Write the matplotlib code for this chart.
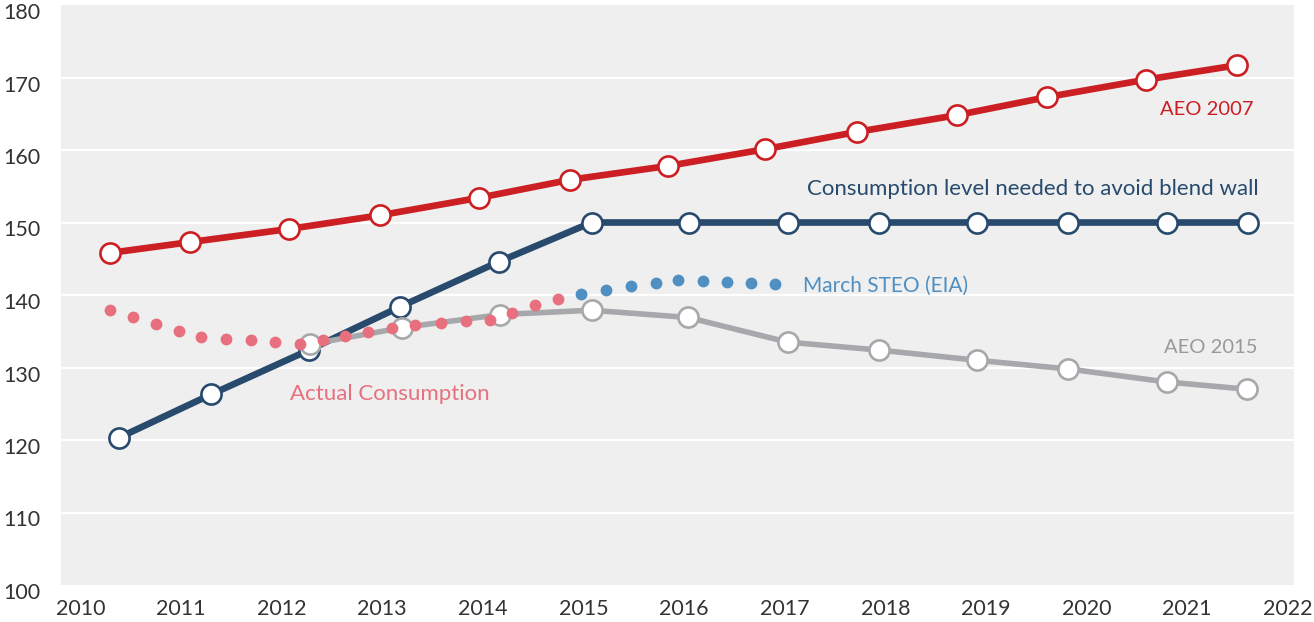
import matplotlib
matplotlib.use("Agg")
import matplotlib.pyplot as plt
import matplotlib.transforms as mtransforms

plt.rcParams['font.family'] = ['Lato', 'DejaVu Sans']

# ---- data (years as fractional positions) ----
aeo2007_x = [2010.29, 2011.09, 2012.07, 2012.98, 2013.96, 2014.87, 2015.84,
             2016.80, 2017.72, 2018.71, 2019.61, 2020.59, 2021.50]
aeo2007_y = [145.8, 147.3, 149.1, 151.0, 153.4, 155.9, 157.8,
             160.1, 162.5, 164.8, 167.3, 169.7, 171.7]

blend_x = [2010.38, 2011.30, 2012.27, 2013.18, 2014.16, 2015.08, 2016.05,
           2017.03, 2017.94, 2018.91, 2019.82, 2020.80, 2021.61]
blend_y = [120.3, 126.3, 132.4, 138.4, 144.6, 150.0, 150.0,
           150.0, 150.0, 150.0, 150.0, 150.0, 150.0]

aeo2015_x = [2012.28, 2013.20, 2014.17, 2015.08, 2016.04, 2017.03, 2017.94,
             2018.91, 2019.82, 2020.80, 2021.60]
aeo2015_y = [133.2, 135.5, 137.3, 137.9, 136.9, 133.5, 132.4,
             131.0, 129.8, 128.0, 127.0]

actual_x = [2010.29, 2010.52, 2010.75, 2010.98, 2011.20, 2011.45, 2011.69,
            2011.93, 2012.18, 2012.41, 2012.63, 2012.86, 2013.10, 2013.33,
            2013.58, 2013.83, 2014.07, 2014.29, 2014.52, 2014.75]
actual_y = [137.9, 136.9, 136.0, 135.1, 134.2, 133.9, 133.8,
            133.5, 133.2, 133.8, 134.3, 134.9, 135.4, 135.8,
            136.1, 136.4, 136.6, 137.5, 138.6, 139.4]

steo_x = [2014.98, 2015.22, 2015.47, 2015.72, 2015.94, 2016.19, 2016.43,
          2016.67, 2016.90]
steo_y = [140.2, 140.75, 141.3, 141.7, 142.1, 142.0, 141.85, 141.6, 141.45]

x_ticks = list(range(2010, 2023))
y_ticks = list(range(100, 181, 10))

labels = {
    "AEO 2007": "AEO 2007",
    "blend": "Consumption level needed to avoid blend wall",
    "steo": "March STEO (EIA)",
    "aeo2015": "AEO 2015",
    "actual": "Actual Consumption",
}

# ---- colours ----
RED = "#cc1f24"
NAVY = "#274a6d"
GRAY = "#a7a8ab"
PINK = "#e8707e"
STEEL = "#4f8fc2"
BG = "#efefef"

fig = plt.figure(figsize=(13.14, 6.22), dpi=100)
W, H = 1314, 622
ax = fig.add_axes([61 / W, (H - 585) / H, (1294 - 61) / W, (585 - 5) / H])
ax.set_facecolor(BG)

ax.set_xlim(2009.806, 2022.063)
ax.set_ylim(100, 180)

for yv in y_ticks[1:-1]:
    ax.axhline(yv, color="white", lw=1.6, zorder=1)

ms = 14.5
mew = 1.9
ax.plot(blend_x, blend_y, color=NAVY, lw=4.8, marker="o", ms=ms,
        mfc="white", mec=NAVY, mew=mew, zorder=3, solid_capstyle="round")
ax.plot(aeo2015_x, aeo2015_y, color=GRAY, lw=4.0, marker="o", ms=ms,
        mfc="white", mec=GRAY, mew=mew, zorder=4, solid_capstyle="round")
ax.plot(aeo2007_x, aeo2007_y, color=RED, lw=4.8, marker="o", ms=ms,
        mfc="white", mec=RED, mew=mew, zorder=5, solid_capstyle="round")
ax.plot(actual_x, actual_y, linestyle="none", marker="o", ms=8.5,
        mfc=PINK, mec="none", zorder=6)
ax.plot(steo_x, steo_y, linestyle="none", marker="o", ms=8.5,
        mfc=STEEL, mec="none", zorder=6)

fs = 16
fs_small = 14.5
ax.text(2021.66, 165.6, labels["AEO 2007"], color=RED, fontsize=fs_small,
        ha="right", va="center")
ax.text(2021.71, 154.6, labels["blend"], color=NAVY, fontsize=fs,
        ha="right", va="center")
ax.text(2017.18, 141.2, labels["steo"], color=STEEL, fontsize=15,
        ha="left", va="center")
ax.text(2021.70, 132.8, labels["aeo2015"], color="#999999", fontsize=fs_small,
        ha="right", va="center")
ax.text(2012.08, 126.3, labels["actual"], color=PINK, fontsize=fs,
        ha="left", va="center")

ax.set_xticks(x_ticks)
ax.set_xticklabels([str(v) for v in x_ticks])
ax.set_yticks(y_ticks)
ax.set_yticklabels([str(v) for v in y_ticks])
ax.tick_params(axis="both", length=0, labelsize=15.5, colors="#333333")
ax.tick_params(axis="x", pad=10)
ax.tick_params(axis="y", pad=15)
offset = mtransforms.ScaledTranslation(0, -6 / 100, fig.dpi_scale_trans)
for lab in ax.get_yticklabels():
    lab.set_transform(lab.get_transform() + offset)

for s in ax.spines.values():
    s.set_visible(False)

fig.savefig("out.png", dpi=100, facecolor="white")
